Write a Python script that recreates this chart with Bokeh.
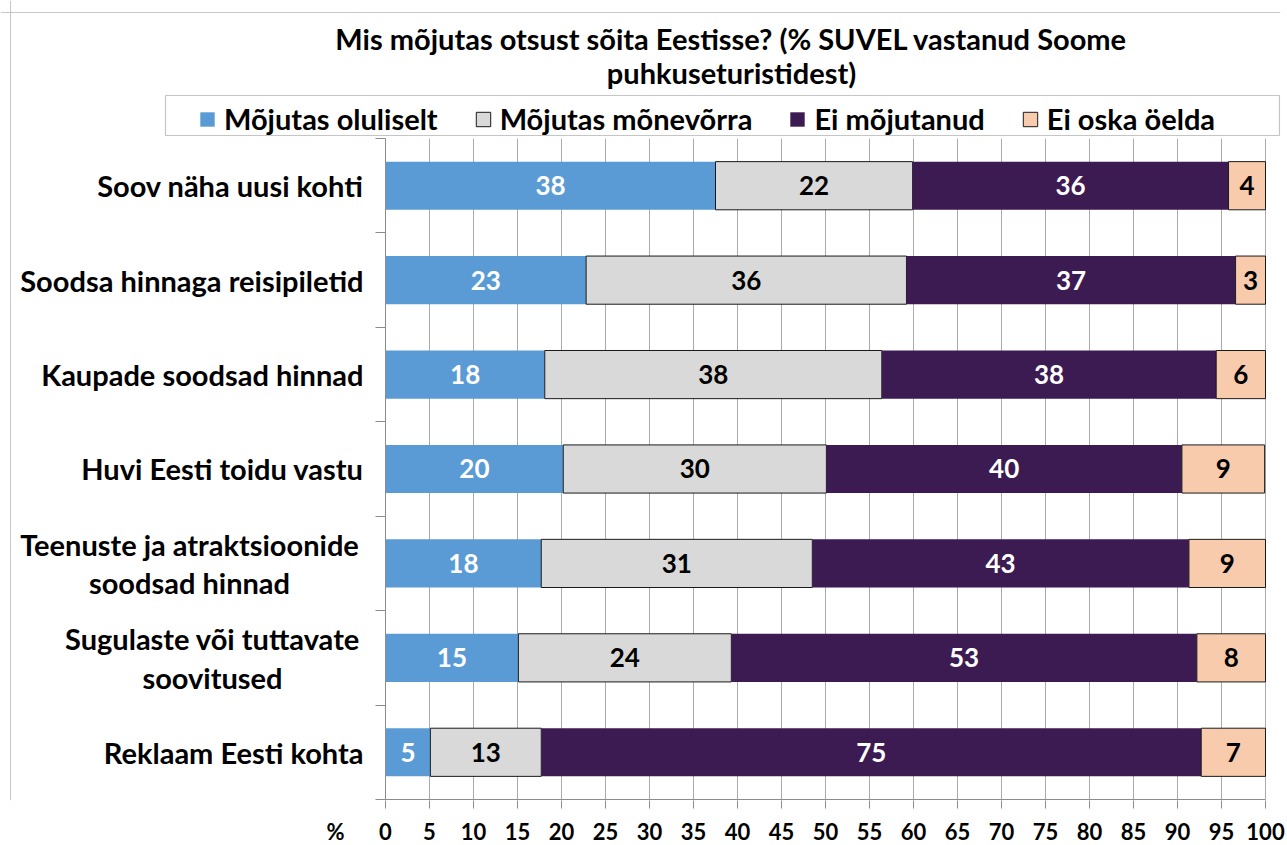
from bokeh.plotting import figure
from bokeh.models import (FixedTicker, Legend, LegendItem, BoxAnnotation, Range1d,
                          ColumnDataSource, LinearAxis, Span)
from bokeh.embed import file_html
from bokeh.resources import INLINE
from bokeh.core.properties import value

# ---------------- data ----------------
title_lines = ["Mis mõjutas otsust sõita Eestisse? (% SUVEL vastanud Soome",
               "puhkuseturistidest)"]
categories = ["Soov näha uusi kohti",
              "Soodsa hinnaga reisipiletid",
              "Kaupade soodsad hinnad",
              "Huvi Eesti toidu vastu",
              "Teenuste ja atraktsioonide\nsoodsad hinnad",
              "Sugulaste või tuttavate\nsoovitused",
              "Reklaam Eesti kohta"]
series_names = ["Mõjutas oluliselt", "Mõjutas mõnevõrra", "Ei mõjutanud", "Ei oska öelda"]
oluliselt = [37.5, 22.8, 18.1, 20.2, 17.7, 15.1, 5.1]
monevorra = [22.4, 36.4, 38.3, 29.9, 30.8, 24.2, 12.6]
ei_mojutanud = [35.9, 37.4, 38.0, 40.4, 42.8, 52.9, 75.0]
ei_oska = [4.2, 3.4, 5.6, 9.4, 8.7, 7.8, 7.3]
x_ticks = [0, 5, 10, 15, 20, 25, 30, 35, 40, 45, 50, 55, 60, 65, 70, 75, 80, 85, 90, 95, 100]
axis_unit = "%"

# ---------------- style / layout ----------------
FONT = "Lato"
colors = ["#5B9BD5", "#D9D9D9", "#3C1A52", "#F8CBAD"]
outline = [None, "#1a1a1a", None, "#1a1a1a"]
text_colors = ["white", "black", "white", "black"]
grid_color = "#ABABAB"
axis_color = "#8C8C8C"

PX_X = 8.8      # pixels per percent
PX_Y = 94.43    # pixels per category row
FW, FH = 1280, 800
X0 = -385 / PX_X                 # left edge of frame in data units
Y0 = -1 / PX_Y                   # bottom edge of frame in data units


def dx(px):  # horizontal offset (px from the value axis origin) -> data
    return px / PX_X


def dy(px):  # vertical offset (px above the value axis) -> data
    return px / PX_Y


n = len(categories)
ypos = [n - 1 - i + 0.5 for i in range(n)]  # first category on top

p = figure(frame_width=FW, frame_height=FH,
           x_range=Range1d(X0, X0 + FW / PX_X), y_range=Range1d(Y0, Y0 + FH / PX_Y),
           x_axis_location=None, y_axis_location=None,
           output_backend="svg", toolbar_location=None)
p.min_border = 0
p.min_border_left = 0
p.min_border_right = 6
p.min_border_top = 0
p.min_border_bottom = 0
p.outline_line_color = None
p.background_fill_color = "white"
p.border_fill_color = "white"

# grid
p.xgrid.ticker = FixedTicker(ticks=x_ticks)
p.xgrid.grid_line_color = grid_color
p.xgrid.grid_line_width = 1
p.xgrid.cross_bounds = (0, n)
p.ygrid.ticker = FixedTicker(ticks=[0])
p.ygrid.grid_line_color = axis_color
p.ygrid.cross_bounds = (0, 100)

# x axis (below)
xa = LinearAxis(ticker=FixedTicker(ticks=[-dx(50)] + x_ticks, minor_ticks=x_ticks),
                bounds=(-dx(52), 100))
xa.major_label_overrides = {-dx(50): axis_unit}
xa.axis_line_color = None
xa.major_tick_line_color = None
xa.major_tick_out = 8
xa.major_tick_in = 0
xa.minor_tick_line_color = axis_color
xa.minor_tick_out = 8
xa.minor_tick_in = 0
xa.major_label_text_font = FONT
xa.major_label_text_font_style = "bold"
xa.major_label_text_font_size = "22px"
xa.major_label_text_color = "black"
xa.major_label_standoff = 9
p.add_layout(xa, "below")

# y axis: line at 0 with ticks at category boundaries (pointing left)
ya = LinearAxis(ticker=FixedTicker(ticks=list(range(n + 1))), fixed_location=0, bounds=(0, n))
ya.axis_line_color = axis_color
ya.major_tick_line_color = axis_color
ya.major_tick_in = 10
ya.major_tick_out = 0
ya.minor_tick_line_color = None
ya.major_label_text_font_size = "0px"
ya.major_label_standoff = 0
ya.major_label_overrides = {i: "" for i in range(n + 1)}
p.add_layout(ya, "right")

# outer chart border (left and top)
p.add_layout(Span(location=-dx(375), dimension="height", line_color="#C8C8C8", line_width=1))
p.add_layout(Span(location=dy(787), dimension="width", line_color="#C8C8C8", line_width=1))

# stacked bars
series = [oluliselt, monevorra, ei_mojutanud, ei_oska]
lefts = [0.0] * n
renderers = []
for k, vals in enumerate(series):
    rights = [l + v for l, v in zip(lefts, vals)]
    mids = [(l + r) / 2 for l, r in zip(lefts, rights)]
    src = ColumnDataSource(dict(y=ypos, left=lefts, right=rights, mid=mids,
                                lab=[f"{v:.0f}" for v in vals]))
    r = p.hbar(y="y", left="left", right="right", height=0.51, source=src,
               fill_color=colors[k],
               line_color=outline[k] if outline[k] else colors[k],
               line_width=1 if outline[k] else 0)
    renderers.append(r)
    p.text(x="mid", y="y", text="lab", source=src, text_align="center", text_baseline="middle",
           text_font=value(FONT), text_font_style="bold", text_font_size="26px",
           text_color=text_colors[k])
    lefts = rights

# category labels
single = [(c, y) for c, y in zip(categories, ypos) if "\n" not in c]
multi = [(c, y) for c, y in zip(categories, ypos) if "\n" in c]
p.text(x=[-dx(22)] * len(single), y=[y for _, y in single], text=[c for c, _ in single],
       text_align="right", text_baseline="middle", text_font=value(FONT),
       text_font_style="bold", text_font_size="29px", text_color="black")
p.text(x=[-dx(196), -dx(173)], y=[y for _, y in multi], text=[c for c, _ in multi],
       text_align="center", text_baseline="middle", text_font=value(FONT),
       text_font_style="bold", text_font_size="29px", text_color="black", text_line_height=1.1)

# title
p.text(x=[dx(346)] * 2, y=[dy(761), dy(727)], text=title_lines, text_align="center",
       text_baseline="middle", text_font=value(FONT), text_font_style="bold",
       text_font_size="29px", text_color="black")

# legend
legend = Legend(items=[LegendItem(label=series_names[k], renderers=[renderers[k]]) for k in range(4)],
                orientation="horizontal", location=(198, 664),
                glyph_width=18, glyph_height=18, label_standoff=8, spacing=36,
                padding=5, margin=0, label_height=30, border_line_color=None, background_fill_alpha=0,
                label_text_font=FONT, label_text_font_style="bold", label_text_font_size="29px",
                label_text_color="black")
p.add_layout(legend, "center")
p.add_layout(BoxAnnotation(left=-dx(220), right=dx(894), top=dy(704), bottom=dy(664),
                           fill_alpha=0, line_color="#404040", line_width=1.2))

open("out.html", "w").write(file_html(p, INLINE))
